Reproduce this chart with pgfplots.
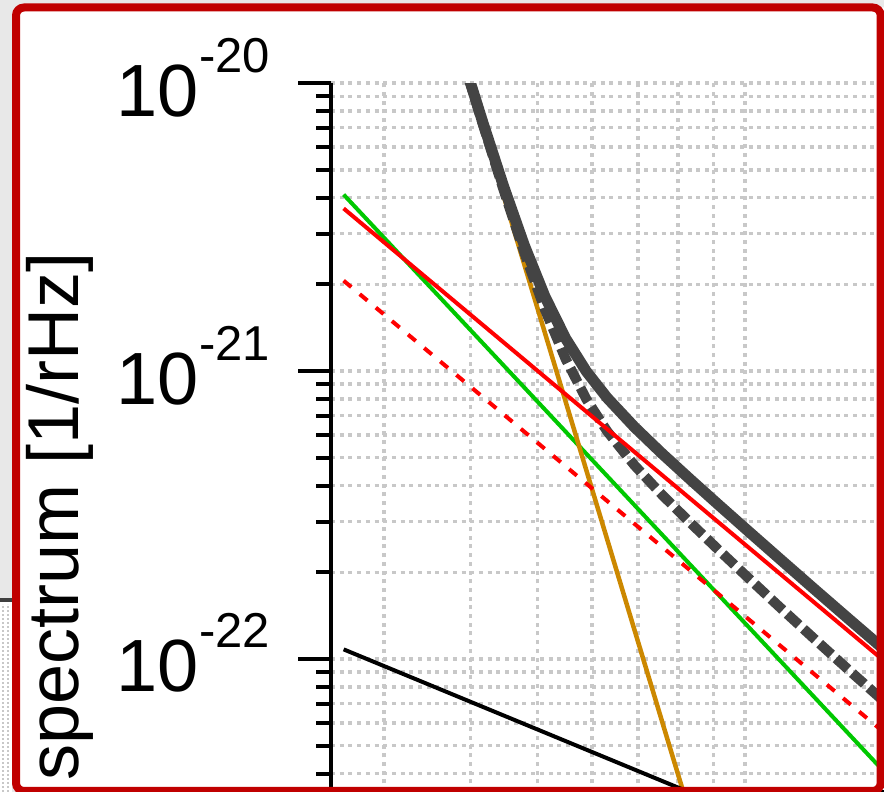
\documentclass[border=0pt]{standalone}
\usepackage{pgfplots}
\pgfplotsset{compat=1.18}
\usepackage{fontspec}
\setmainfont{Liberation Sans}
\definecolor{framered}{RGB}{192,0,0}
\definecolor{gridgray}{RGB}{200,200,200}
\definecolor{dgray}{RGB}{68,68,68}
\definecolor{lgreen}{RGB}{0,200,0}
\definecolor{lorange}{RGB}{204,136,0}
\definecolor{bggray}{RGB}{232,232,232}
\definecolor{linegray}{RGB}{64,64,64}
\newcommand\tl[1]{10\raisebox{44pt}{\fontsize{49}{49}\selectfont -#1}}
\begin{document}
\begin{tikzpicture}[x=1pt,y=1pt]
\fill[bggray] (0,0) rectangle (884,792);
\fill[white] (0,0) rectangle (12,192);
\draw[linegray, line width=4pt] (0,192) -- (12,192);
\draw[gridgray, line width=1.5pt, dash pattern=on 2pt off 2pt] (3,0) -- (3,188);
\draw[gridgray, line width=1.5pt, dash pattern=on 2pt off 2pt] (8,0) -- (8,188);
\fill[white, rounded corners=8pt] (16,-10) rectangle (900,784.5);
\begin{axis}[
  at={(331pt,0pt)}, anchor=south west,
  scale only axis, width=553pt, height=709pt,
  xmode=log, ymode=log,
  xmin=2.512, xmax=15.90, ymin=3.45e-23, ymax=1e-20,
  axis y line*=left, axis x line*=bottom,
  axis line style={line width=3.5pt, -},
  xtick={10}, minor xtick={3,4,5,6,7,8,9}, xticklabels={},
  ytick={1e-22,1e-21,1e-20},
  minor ytick={4e-23,5e-23,6e-23,7e-23,8e-23,9e-23,2e-22,3e-22,4e-22,5e-22,6e-22,7e-22,8e-22,9e-22,2e-21,3e-21,4e-21,5e-21,6e-21,7e-21,8e-21,9e-21},
  yticklabels={\tl{22},\tl{21},\tl{20}},
  tick align=outside,
  major tick length=33pt, minor tick length=15pt,
  tick style={black, line width=4pt},
  xmajorgrids=true, xminorgrids=true, ymajorgrids=true, yminorgrids=true,
  major grid style={gridgray, line width=3.5pt, dash pattern=on 4pt off 4.7pt},
  minor grid style={gridgray, line width=3.5pt, dash pattern=on 4pt off 4.7pt},
  yticklabel style={font=\fontsize{74}{74}\selectfont, anchor=base east, inner sep=0pt, yshift=-33pt, xshift=-28pt},
  ylabel={spectrum [1/rHz]},
  every axis y label/.style={at={(axis description cs:-0.4575,0.3886)}, rotate=90, anchor=base, font=\fontsize{72}{72}\selectfont},
  no markers,
]
% green
\addplot[lgreen, line width=4pt] coordinates {(2.62,4.10e-21) (16.0,4.00e-23)};
% orange
\addplot[lorange, line width=4.5pt] coordinates {(3.8905,1.2214e-20) (8.318,2.905e-23)};
% gray solid (total)
\addplot[dgray, line width=11pt, line join=round] coordinates {
(3.8905,1.2417e-20) (4.1687,7.307e-21) (4.4668,4.389e-21) (4.7863,2.739e-21)
(5.1286,1.815e-21) (5.4954,1.298e-21) (5.8884,9.977e-22) (6.3096,8.080e-22)
(6.9183,6.383e-22) (7.5858,5.163e-22) (8.3176,4.218e-22) (9.1201,3.460e-22)
(10.0,2.844e-22) (11.220,2.231e-22) (12.589,1.752e-22) (14.125,1.379e-22) (16.218,1.037e-22)};
% gray dashed
\addplot[dgray, line width=10pt, dash pattern=on 16pt off 6pt] coordinates {
(3.8905,1.2341e-20) (4.1687,7.208e-21) (4.4668,4.264e-21) (4.7863,2.585e-21)
(5.1286,1.635e-21) (5.4954,1.102e-21) (5.8884,7.993e-22) (6.3096,6.187e-22)
(6.9183,4.701e-22) (7.5858,3.713e-22) (8.3176,2.983e-22) (9.1201,2.413e-22)
(10.0,1.960e-22) (11.220,1.516e-22) (12.589,1.177e-22) (14.125,9.171e-23) (16.218,6.831e-23)};
% red dashed
\addplot[red, line width=4pt, dash pattern=on 10pt off 11pt] coordinates {(2.62,2.06e-21) (16.0,5.49e-23)};
% red solid
\addplot[red, line width=4pt] coordinates {(2.62,3.67e-21) (16.0,9.73e-23)};
% black
\addplot[black, line width=4pt] coordinates {(2.62,1.080e-22) (16.0,1.80e-23)};
\end{axis}
\draw[framered, line width=8pt, rounded corners=8pt] (16,1) rectangle (880.7,784.5);
\pgfresetboundingbox
\path[use as bounding box] (0,0) rectangle (884,792);
\end{tikzpicture}
\end{document}
